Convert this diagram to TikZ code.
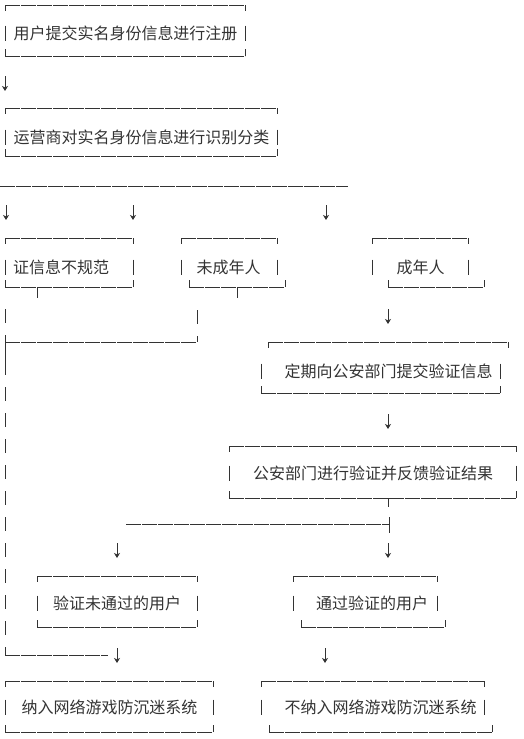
\documentclass[tikz,border=0pt]{standalone}
\usepackage{fontspec}
\setmainfont{Noto Sans CJK SC}
\usetikzlibrary{arrows.meta}
\definecolor{strichfarbe}{RGB}{51,51,51}
\tikzset{
  strich/.style={line width=1pt, draw=strichfarbe},
  linie/.style={strich, dash pattern=on 14.5pt off 1.5pt},
  pfeil/.style={strich, -{Stealth[length=5pt,width=6pt,inset=1.5pt]}},
  beschriftung/.style={inner sep=0pt, text height=12pt, text depth=0pt, text=strichfarbe, font=\fontsize{16pt}{16pt}\selectfont}
}

\begin{document}
\begin{tikzpicture}[x=1pt,y=-1pt]
        \useasboundingbox (0,0) rectangle (524,739);

        % Rahmen: oben links/rechts, Seiten links/rechts, unten links/rechts, y oben/mitte/unten
        \foreach \xa/\xb/\xc/\xd/\xe/\xf/\ya/\yb/\yc in {5/245/5/245/5/245/5/33/56, 5/277/5/277/5/277/108/137/156, 5/133/5/133/5/133/238/267/287, 181/277/181/277/189/285/238/267/287, 372/468/372/468/388/484/238/267/287, 268/508/261/500/261/500/342/371/393, 229/516/229/516/229/516/446/473/498, 37/197/37/197/37/197/576/603/627, 293/437/293/437/301/445/576/603/627, 5/213/5/213/5/213/681/707/732, 261/484/261/484/269/492/681/707/732}
        {
            \draw[linie] (\xa,\ya) -- (\xb,\ya);
            \draw[strich] (\xa,\ya) -- ++(0,6) (\xb,\ya) -- ++(0,6);
            \draw[strich] (\xc,\yb-7.5) -- ++(0,15) (\xd,\yb-7.5) -- ++(0,15);
            \draw[linie] (\xe,\yc) -- (\xf,\yc);
            \draw[strich] (\xe,\yc) -- ++(0,-7) (\xf,\yc) -- ++(0,-7);
        }

        % Texte
        \node[beschriftung] (anmeldung) at (125.5,33) {用户提交实名身份信息进行注册};
        \node[beschriftung] (einstufung) at (141.5,137) {运营商对实名身份信息进行识别分类};
        \node[beschriftung] (unregelmaessig) at (61,267) {证信息不规范};
        \node[beschriftung] (minderjaehrig) at (228.5,267) {未成年人};
        \node[beschriftung] (volljaehrig) at (420.5,267) {成年人};
        \node[beschriftung] (meldung) at (388.5,371) {定期向公安部门提交验证信息};
        \node[beschriftung] (pruefung) at (373,473) {公安部门进行验证并反馈验证结果};
        \node[beschriftung] (nichtbestanden) at (117,603) {验证未通过的用户};
        \node[beschriftung] (bestanden) at (372,603) {通过验证的用户};
        \node[beschriftung] (aufnahme) at (109.5,707) {纳入网络游戏防沉迷系统};
        \node[beschriftung] (keineaufnahme) at (380.5,707) {不纳入网络游戏防沉迷系统};

        % Verbindungslinien
        \draw[linie] (0,186) -- (348,186);
        \draw[strich] (37,287) -- (37,298) (237,287) -- (237,298);
        \draw[strich] (197,310) -- (197,324) (197,336) -- (197,342);
        \draw[linie] (5,342) -- (197,342);
        \draw[strich, dash pattern=on 14pt off 12pt] (5,309) -- (5,655);
        \draw[strich] (5,335) -- (5,361);
        \draw[linie] (5,655) -- (108,655);
        \draw[strich] (388,498) -- (388,507) (389,517) -- (389,533);
        \draw[linie] (126,524) -- (389,524);

        % Pfeile
        \foreach \i/\x/\y in {1/5/76, 2/6/205, 3/133/205, 4/326/205, 5/388/309, 6/388/414, 7/117/543, 8/388/543, 9/117/648, 10/325/648}
            \coordinate (p\i) at (\x,\y);
        \foreach \i in {1,...,10}
            \draw[pfeil] (p\i) -- ++(0,15);
\end{tikzpicture}
\end{document}
